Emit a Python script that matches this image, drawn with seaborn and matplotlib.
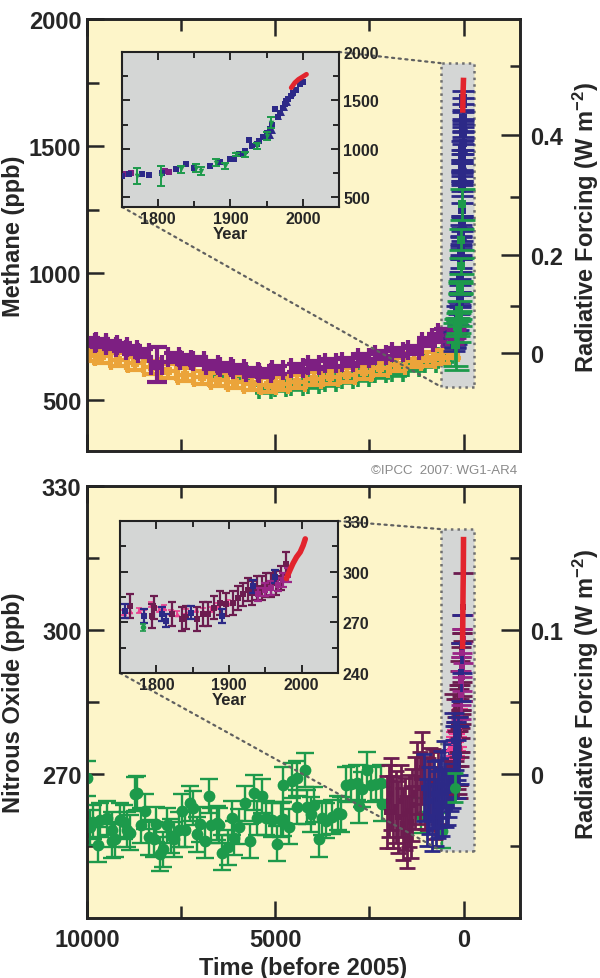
import matplotlib
matplotlib.use("Agg")
import matplotlib.pyplot as plt
import seaborn as sns
from matplotlib.patches import Rectangle, ConnectionPatch

### data ###

# methane, long record (years before 2005, ppb)
ch4_purple_age = [9920, 9650, 9340, 9080, 8810, 8500, 8150, 7700, 7390, 7040, 6680, 6330, 5980, 5620,
                  5270, 4950, 4420, 3980, 3540, 3090, 2650, 2210, 1760, 1320, 960, 700, 520]
ch4_purple_val = [730, 724, 717, 708, 697, 684, 640, 668, 660, 655, 638, 631, 621, 611,
                  608, 618, 625, 638, 645, 651, 664, 677, 690, 697, 730, 743, 763]
ch4_purple_err = [16, 16, 16, 16, 16, 16, 70, 16, 16, 16, 16, 16, 16, 16,
                  16, 16, 16, 16, 16, 16, 16, 16, 16, 16, 16, 16, 16]

ch4_orange_age = [9920, 9600, 9170, 8720, 8280, 7840, 7390, 6950, 6510, 6060, 5620, 5180,
                  4860, 4420, 3980, 3540, 3090, 2650, 2210, 1760, 1320, 960, 610, 340]
ch4_orange_val = [680, 672, 660, 645, 630, 615, 601, 590, 580, 572, 565, 560,
                  565, 572, 585, 590, 599, 610, 625, 640, 655, 662, 670, 690]

ch4_green_age = [6500, 5900, 5270, 4870, 4420, 3980, 3540, 3090, 2650, 2210, 1760, 1320, 880, 520]
ch4_green_val = [612, 598, 545, 552, 555, 565, 572, 582, 592, 605, 612, 630, 648, 668]

# methane, last 250 years (calendar year, ppb)
ch4_blue_year = [1750, 1760, 1778, 1788, 1806, 1825, 1838, 1850, 1871, 1885, 1900, 1905, 1912, 1915,
                 1920, 1926, 1930, 1936, 1940, 1945, 1950, 1955, 1958, 1962, 1965, 1968, 1972, 1975,
                 1977, 1980, 1983, 1987, 1990, 1996, 2000]
ch4_blue_val = [718, 745, 736, 730, 746, 790, 846, 800, 822, 863, 890, 900, 942, 950,
                980, 1090, 1030, 1045, 1080, 1120, 1166, 1200, 1250, 1407, 1330, 1373, 1420, 1460,
                1493, 1510, 1550, 1580, 1610, 1665, 1690]
ch4_tri_year = [1955, 1958, 1966, 1970, 1974, 1978, 1983]
ch4_tri_val = [1145, 1198, 1342, 1381, 1427, 1487, 1578]
ch4_gins_year = [1771, 1804, 1832, 1852, 1859, 1880, 1892, 1908, 1920, 1936, 1950, 1956]
ch4_gins_val = [718, 718, 787, 804, 770, 856, 822, 942, 942, 1028, 1132, 1270]
ch4_gins_err = [85, 100, 35, 40, 40, 35, 30, 20, 25, 30, 40, 60]
ch4_pins_year = [1755, 1762, 1810, 1815]
ch4_pins_val = [735, 746, 770, 760]
ch4_red_year = [1984, 1989, 1994, 2000, 2005]
ch4_red_val = [1631, 1683, 1717, 1745, 1769]

# nitrous oxide, long record (years before 2005, ppb)
n2o_green_age = [10000, 9920, 9830, 9716, 9654, 9476, 9343, 9343, 9255, 9120, 9005, 8943, 8854, 8738,
                 8676, 8560, 8472, 8365, 8232, 8170, 8054, 7992, 7876, 7761, 7698, 7565, 7477, 7388,
                 7272, 7192, 7077, 6988, 6855, 6766, 6695, 6544, 6482, 6411, 6251, 6162, 6100, 5967,
                 5807, 5683, 5568, 5479, 5364, 5258, 5080, 4947, 4858, 4796, 4795, 4640, 4550, 4418,
                 4223, 4436, 4152, 4046, 3975, 3842, 3753, 3665, 3487, 3336, 3265, 3132, 2999, 2839,
                 2777, 2688, 2573, 2466, 2333, 2200, 2155, 1135, 559]
n2o_green_val = [269.1, 258.9, 260.0, 255.3, 260.4, 260.8, 258.4, 256.0, 256.4, 260.4, 260.0, 258.4, 257.8, 265.8,
                 266.0, 259.3, 262.2, 256.8, 256.4, 259.5, 253.3, 254.3, 259.3, 257.1, 256.4, 258.4, 262.2, 258.4,
                 263.9, 262.9, 257.4, 259.5, 256.0, 265.4, 259.3, 259.8, 259.3, 253.6, 254.7, 260.8, 256.7, 259.0,
                 263.9, 256.0, 266.1, 260.8, 265.4, 260.8, 260.4, 255.5, 260.4, 267.8, 260.6, 259.0, 268.6, 269.1,
                 270.8, 263.1, 263.1, 261.6, 263.6, 256.4, 260.8, 260.3, 261.0, 261.9, 261.6, 267.8, 268.0, 268.2,
                 263.4, 266.8, 270.9, 267.8, 268.0, 268.2, 263.7, 261.3, 258.2]
n2o_maroon_age = [2020, 1978, 1933, 1880, 1800, 1740, 1667, 1600, 1560, 1500, 1445, 1400,
                  1356, 1300, 1223, 1150, 1090, 1020, 957, 890, 824, 760, 691]
n2o_maroon_val = [262.0, 264.4, 265.8, 262.0, 263.1, 261.0, 264.4, 259.5, 261.6, 258.0, 262.3, 260.0,
                  263.6, 266.0, 269.2, 267.0, 271.2, 266.0, 265.8, 268.0, 267.8, 264.0, 267.1]
n2o_blue_age = [1046, 980, 913, 850, 780, 730, 691, 640, 602, 560, 514, 470, 425, 380, 337, 290]
n2o_blue_val = [267.1, 262.0, 264.4, 261.0, 265.8, 262.0, 263.6, 266.0, 267.8, 264.0, 269.9,
                266.0, 266.4, 268.0, 269.2, 270.0]

# nitrous oxide, last 250 years (calendar year, ppb)
n2o_pink_year = [1755, 1764, 1776, 1783, 1792, 1804, 1811, 1820, 1829, 1841, 1855, 1864, 1875, 1885, 1898]
n2o_pink_val = [275.8, 276.8, 277.2, 275.8, 280.6, 277.7, 278.7, 275.8, 275.2, 276.4, 277.7, 276.8,
                277.7, 279.7, 281.6]
n2o_mar_ins_year = [1764, 1794, 1797, 1822, 1836, 1841, 1856, 1864, 1871, 1880, 1887, 1896, 1905, 1912,
                    1919, 1926, 1931, 1938, 1945, 1951, 1958, 1965, 1972, 1979]
n2o_mar_ins_val = [279.7, 273.9, 278.7, 274.8, 271.9, 272.9, 271.9, 274.8, 274.8, 278.7, 281.6, 280.6,
                   281.6, 284.5, 286.5, 289.4, 287.4, 290.3, 290.3, 292.3, 292.3, 293.2, 296.1, 304.8]
n2o_mag_year = [1940, 1949, 1958, 1968, 1975, 1981]
n2o_mag_val = [286.5, 289.4, 290.3, 292.3, 295.2, 298.1]
n2o_blue_ins_year = [1757, 1783, 1808, 1813, 1848, 1891, 1933, 1963]
n2o_blue_ins_val = [276.8, 273.9, 274.8, 271.0, 275.8, 273.9, 291.3, 297.1]
n2o_green_ins_year = [1781]
n2o_green_ins_val = [267.1]
n2o_red_year = [1979, 1984, 1988, 1993, 1998, 2002, 2005]
n2o_red_val = [296.0, 301.0, 304.8, 308.7, 311.6, 315.5, 319.4]

# radiative forcing axis: tick labels and their ppb positions
ch4_rf_labels = ['0', '0.2', '0.4']
ch4_rf_major = [685, 1072, 1542]
ch4_rf_minor = [870, 1298, 1813]
n2o_rf_labels = ['0', '0.1']
n2o_rf_major = [270, 300]
n2o_rf_minor = [255, 285, 315]

### style ###

sns.set_theme(style="ticks")
plt.rcParams['font.family'] = ['Liberation Sans', 'DejaVu Sans']
plt.rcParams['font.weight'] = 'bold'
plt.rcParams['mathtext.fontset'] = 'custom'
plt.rcParams['mathtext.rm'] = 'Liberation Sans:bold'
plt.rcParams['mathtext.bf'] = 'Liberation Sans:bold'
plt.rcParams['mathtext.default'] = 'bf'

BG = '#fdf5c9'
GREY = '#d4d6d5'
PURPLE = '#7d1f82'
ORANGE = '#eba43a'
GREEN = '#1d9a4b'
BLUE = '#2c2987'
RED = '#e2242d'
MAROON = '#6c1c4f'
MAGENTA = '#9b2687'
PINK = '#ec3f8f'


def draw(ax, x, y, err, color, marker='s', ms=6, cap=5, lw=2.0, xerr=None, z=3):
    if err is not None or xerr is not None:
        ax.errorbar(x, y, yerr=err, xerr=xerr, fmt='none', ecolor=color, elinewidth=lw,
                    capsize=cap, capthick=lw, zorder=z)
    if ms > 0:
        sns.scatterplot(x=list(x), y=list(y), ax=ax, color=color, marker=marker, s=ms ** 2,
                        linewidth=0, zorder=z + 0.1, legend=False)


def ago(years):
    return [2005 - yr for yr in years]


def style_main(ax, ylim, major, minor, label, show_x):
    ax.set_facecolor(BG)
    ax.set_xlim(10000, -1500)
    ax.set_ylim(*ylim)
    ax.set_xticks([10000, 5000, 0])
    ax.set_xticks([7500, 2500], minor=True)
    ax.set_yticks(major)
    ax.set_yticks(minor, minor=True)
    ax.tick_params(which='major', direction='in', length=12, width=1.8, labelsize=17, top=True, right=False)
    ax.tick_params(which='minor', direction='in', length=8.5, width=1.8, top=True, right=False)
    ax.tick_params(axis='y', pad=4)
    ax.tick_params(axis='x', pad=7, labelbottom=show_x)
    for s in ax.spines.values():
        s.set_linewidth(1.8)
        s.set_color('black')
    ax.set_ylabel(label, fontsize=17, fontweight='bold')
    ax.yaxis.set_label_coords(-0.143, 0.5)
    ax.set_xlabel('')


def forcing_axis(ax, major, labels, minor):
    tw = ax.twinx()
    tw.set_ylim(ax.get_ylim())
    tw.set_yticks(major, labels=labels)
    tw.set_yticks(minor, minor=True)
    tw.tick_params(axis='y', which='major', direction='in', length=14, width=1.8, labelsize=17, pad=7)
    tw.tick_params(axis='y', which='minor', direction='in', length=7, width=1.8)
    for s in tw.spines.values():
        s.set_linewidth(1.8)
    tw.set_ylabel('Radiative Forcing (W m$^{-2}$)', fontsize=17, fontweight='bold')
    tw.yaxis.set_label_coords(1.118, 0.52)
    return tw


def style_inset(ax, ylim, major, minor):
    ax.set_facecolor(GREY)
    ax.set_xlim(1750, 2050)
    ax.set_ylim(*ylim)
    ax.set_xticks([1800, 1900, 2000])
    ax.set_xticks([1850, 1950], minor=True)
    ax.set_yticks(major)
    ax.set_yticks(minor, minor=True)
    ax.yaxis.tick_right()
    ax.tick_params(which='major', direction='in', length=6, width=1.4, labelsize=11.5,
                   top=True, bottom=True, left=True, right=True, pad=3)
    ax.tick_params(which='minor', direction='in', length=4, width=1.4,
                   top=True, bottom=True, left=True, right=True)
    for s in ax.spines.values():
        s.set_linewidth(1.5)
        s.set_color('#222222')
    ax.set_xlabel('Year', fontsize=12, fontweight='bold', labelpad=0)
    ax.set_ylabel('')


fig = plt.figure(figsize=(6, 9.79), dpi=100)
ax1 = fig.add_axes([0.145, 0.5383, 0.7217, 0.4413])
ax2 = fig.add_axes([0.145, 0.0613, 0.7217, 0.4413])
ins1 = fig.add_axes([0.2033, 0.7876, 0.3617, 0.1583], zorder=5)
ins2 = fig.add_axes([0.2, 0.3115, 0.3633, 0.1553], zorder=5)

### methane panel ###
ax1.add_patch(Rectangle((-290, 552), 880, 1274, facecolor=GREY, edgecolor='#707070',
                        linestyle=':', linewidth=1.8, zorder=1))
draw(ax1, ch4_green_age, ch4_green_val, 16, GREEN, ms=6, cap=7, lw=2.6, xerr=150, z=2)
draw(ax1, ch4_orange_age, ch4_orange_val, 26, ORANGE, ms=6, cap=7, lw=3.0, xerr=200, z=3)
draw(ax1, ch4_purple_age, ch4_purple_val, ch4_purple_err, PURPLE, ms=7, cap=7, lw=3.0, xerr=150, z=4)
draw(ax1, ago(ch4_blue_year), ch4_blue_val, 25, BLUE, ms=6, cap=8, lw=2, z=5)
draw(ax1, ago(ch4_tri_year), ch4_tri_val, 20, BLUE, marker='^', ms=8, cap=8, lw=2, z=5)
draw(ax1, ago(ch4_gins_year), ch4_gins_val, ch4_gins_err, GREEN, ms=6, cap=9, lw=2, z=6)
draw(ax1, ago(ch4_pins_year), ch4_pins_val, 15, PURPLE, ms=6, cap=7, lw=2, z=5)
ax1.plot(ago(ch4_red_year), ch4_red_val, color=RED, lw=4, zorder=7, solid_capstyle='butt')
style_main(ax1, (300, 2000), [500, 1000, 1500, 2000], [750, 1250, 1750], 'Methane (ppb)', False)
forcing_axis(ax1, ch4_rf_major, ch4_rf_labels, ch4_rf_minor)

draw(ins1, ch4_pins_year, ch4_pins_val, None, PURPLE, ms=5)
draw(ins1, ch4_blue_year, ch4_blue_val, 12, BLUE, ms=5, cap=2, lw=1.2)
draw(ins1, ch4_tri_year, ch4_tri_val, None, BLUE, marker='^', ms=5)
draw(ins1, ch4_gins_year, ch4_gins_val, ch4_gins_err, GREEN, marker='v', ms=4, cap=3, lw=1.4, z=4)
ins1.plot(ch4_red_year, ch4_red_val, color=RED, lw=3.5, zorder=6)
style_inset(ins1, (400, 2000), [500, 1000, 1500, 2000], [750, 1250, 1750])

### nitrous oxide panel ###
ax2.add_patch(Rectangle((-290, 254), 880, 67, facecolor=GREY, edgecolor='#707070',
                        linestyle=':', linewidth=1.8, zorder=1))
draw(ax2, n2o_green_age, n2o_green_val, 3.6, GREEN, marker='o', ms=8.5, cap=6.5, lw=1.7, z=3)
draw(ax2, n2o_maroon_age, n2o_maroon_val, 7.5, MAROON, ms=5, cap=6, lw=2, z=4)
draw(ax2, n2o_blue_age, n2o_blue_val, 7, BLUE, ms=5, cap=6, lw=2, z=5)
draw(ax2, ago(n2o_pink_year), n2o_pink_val, 2, PINK, marker='^', ms=5, cap=6, lw=1.5, z=5)
draw(ax2, ago(n2o_mar_ins_year), n2o_mar_ins_val, 7, MAROON, ms=5, cap=7, lw=2, z=5)
draw(ax2, ago(n2o_mag_year), n2o_mag_val, 5, MAGENTA, ms=5, cap=7, lw=2, z=6)
draw(ax2, ago(n2o_blue_ins_year), n2o_blue_ins_val, 6, BLUE, ms=5, cap=7, lw=2, z=6)
draw(ax2, ago(n2o_green_ins_year), n2o_green_ins_val, 3, GREEN, marker='o', ms=8, cap=6, lw=2, z=6)
ax2.plot(ago(n2o_red_year), n2o_red_val, color=RED, lw=4, zorder=7, solid_capstyle='butt')
style_main(ax2, (240, 330), [270, 300, 330], [255, 285, 315], 'Nitrous Oxide (ppb)', True)
ax2.set_xlabel('Time (before 2005)', fontsize=17, fontweight='bold', labelpad=4)
forcing_axis(ax2, n2o_rf_major, n2o_rf_labels, n2o_rf_minor)

draw(ins2, n2o_pink_year, n2o_pink_val, 1.5, PINK, marker='^', ms=4, cap=2, lw=1.2, z=3)
draw(ins2, n2o_mar_ins_year, n2o_mar_ins_val, 7, MAROON, ms=4, cap=3, lw=1.6, z=4)
draw(ins2, n2o_mag_year, n2o_mag_val, 4, MAGENTA, ms=4, cap=3, lw=1.6, z=5)
draw(ins2, n2o_blue_ins_year, n2o_blue_ins_val, 4, BLUE, ms=5, cap=3, lw=1.6, z=5)
draw(ins2, n2o_green_ins_year, n2o_green_ins_val, 2, GREEN, marker='o', ms=4, cap=2, lw=1.2, z=5)
ins2.plot(n2o_red_year, n2o_red_val, color=RED, lw=4, zorder=6)
style_inset(ins2, (240, 330), [240, 270, 300, 330], [255, 285, 315])

# dotted lines from the insets to the highlighted boxes
for ins, ax, top, bottom in [(ins1, ax1, 1826, 552), (ins2, ax2, 321, 254)]:
    for xy_a, xy_b in [((1, 1), (590, top)), ((0, 0), (590, bottom))]:
        con = ConnectionPatch(xyA=xy_a, coordsA=ins.transAxes, xyB=xy_b, coordsB=ax.transData,
                              linestyle=(0, (1, 2)), color='#606060', linewidth=1.6, zorder=2)
        fig.add_artist(con)

fig.text(0.862, 0.519, '\u00a9IPCC  2007: WG1-AR4', ha='right', va='center', fontsize=9.5,
         fontweight='normal', color='#8a8a8a')

fig.savefig('out.png', dpi=100, facecolor='white')
